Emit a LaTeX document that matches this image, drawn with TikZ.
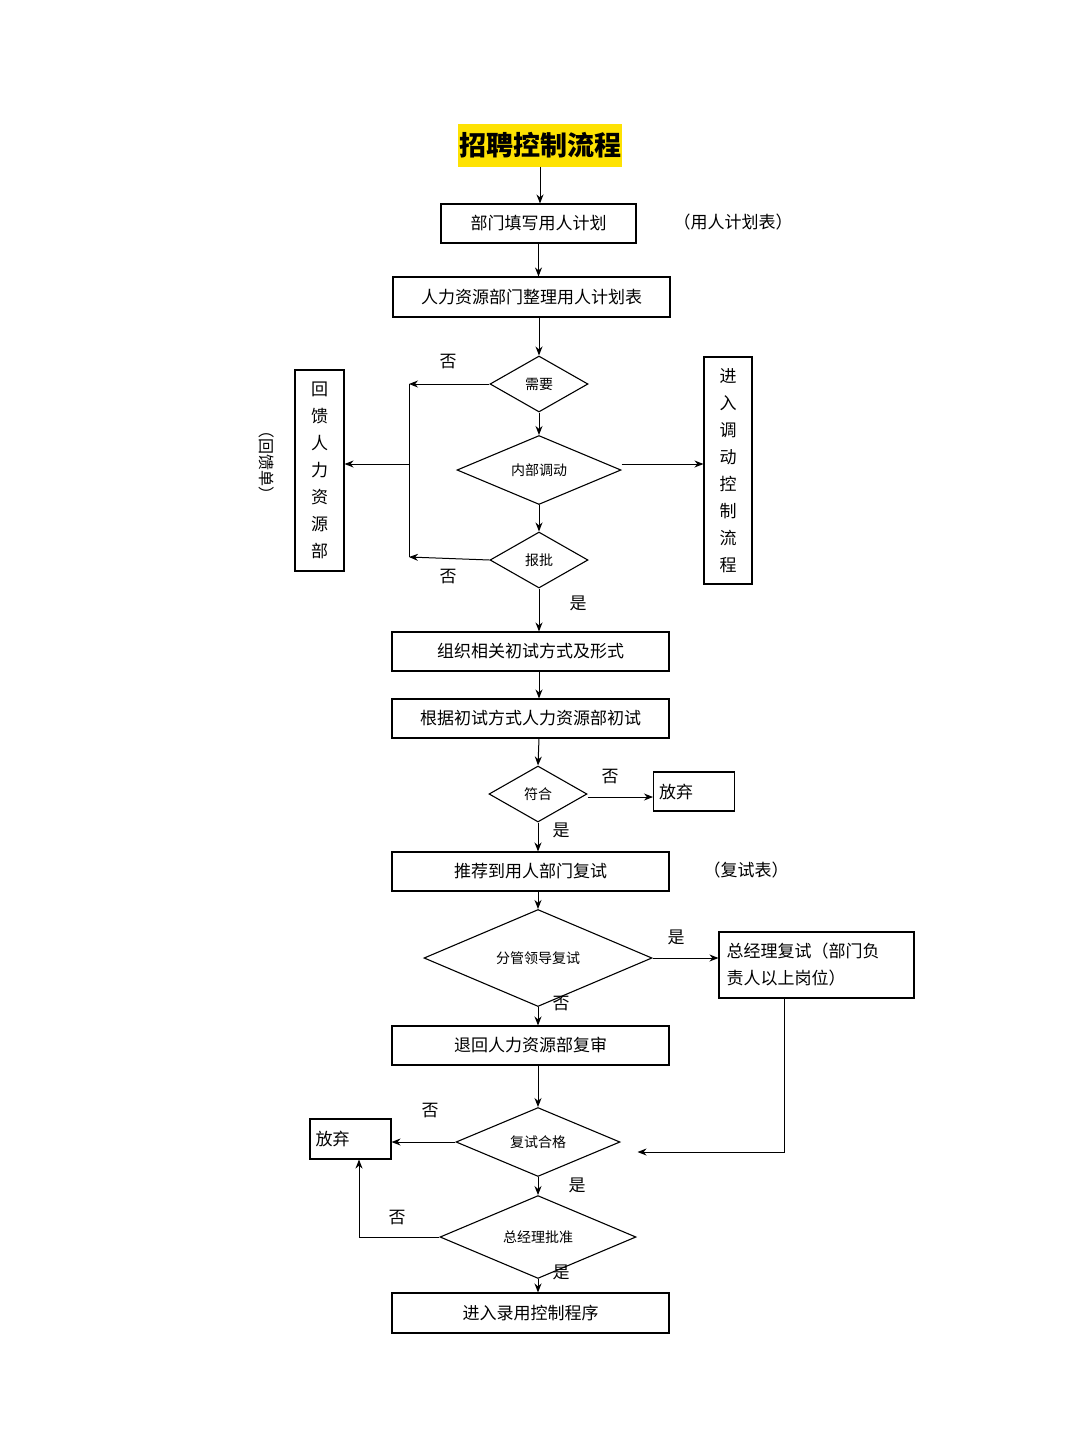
\documentclass[tikz,border=0pt]{standalone}
\usepackage{fontspec}
\setmainfont{Noto Sans CJK SC}
\usetikzlibrary{shapes.geometric,arrows.meta}
\begin{document}
\begin{tikzpicture}[x=1pt,y=-1pt,
  box/.style={draw,line width=1.1pt,inner sep=0pt,font=\fontsize{17}{20}\selectfont},
  dia/.style={draw,diamond,line width=1.1pt,inner sep=0pt,font=\fontsize{14}{16}\selectfont},
  vbox/.style={draw,line width=1.1pt,inner sep=0pt,align=center,font=\fontsize{17}{27}\selectfont},
  lab/.style={font=\fontsize{17}{20}\selectfont},
  arr/.style={-{Stealth[length=9pt,width=7pt]},line width=1pt},
  ln/.style={line width=1pt}]
\useasboundingbox (0,0) rectangle (1080,1443);
\node[fill=yellow!85!orange,minimum width=164pt,minimum height=43pt,inner sep=0pt,font=\fontsize{27}{30}\selectfont\bfseries] (t) at (540,145) {招聘控制流程};
\node[box,minimum width=195pt,minimum height=39pt] (b1) at (538.5,223.5) {部门填写用人计划};
\node[lab] (l1) at (733,222) {（用人计划表）};
\node[box,minimum width=277pt,minimum height=40pt] (b2) at (531.5,297) {人力资源部门整理用人计划表};
\node[dia,minimum width=98pt,minimum height=56pt] (d1) at (539,384) {需要};
\node[dia,minimum width=164pt,minimum height=66pt] (d2) at (539,470) {内部调动};
\node[dia,minimum width=98pt,minimum height=56pt] (d3) at (539,560) {报批};
\node[vbox,minimum width=49pt,minimum height=201pt] (fb) at (319.5,470.5) {回\\馈\\人\\力\\资\\源\\部};
\node[vbox,minimum width=48pt,minimum height=227pt] (tr) at (728,470.5) {进\\入\\调\\动\\控\\制\\流\\程};
\node[align=center,font=\fontsize{16}{17}\selectfont,rotate=-90] (l2) at (267,462) {（回馈单）};
\coordinate (L1) at (409,384);
\coordinate (L3) at (409,557);
\coordinate (Lm) at (409,464);
\node[lab] at (448,362) {否};
\node[lab] at (448,577) {否};
\node[lab] at (578,603) {是};
\node[box,minimum width=277pt,minimum height=39pt] (b3) at (530.5,651.5) {组织相关初试方式及形式};
\node[box,minimum width=277pt,minimum height=39pt] (b4) at (530.5,718.5) {根据初试方式人力资源部初试};
\node[dia,minimum width=98pt,minimum height=56pt] (d4) at (538,794) {符合};
\node[box,minimum width=81pt,minimum height=39pt,anchor=west,text width=70pt,align=left] (a1) at (653,791.5) {放弃};
\node[lab] at (610,777) {否};
\node[lab] at (561,830) {是};
\node[box,minimum width=277pt,minimum height=39pt] (b5) at (530.5,871.5) {推荐到用人部门复试};
\node[lab] at (746,870) {（复试表）};
\node[dia,minimum width=228pt,minimum height=54pt] (d5) at (538,958) {分管领导复试};
\node[lab] at (676,937) {是};
\node[box,minimum width=195pt,minimum height=66pt,text width=180pt,align=left,font=\fontsize{17}{27}\selectfont] (gm) at (816.5,965) {总经理复试（部门负\\责人以上岗位）};
\node[lab] at (561,1004) {否};
\node[box,minimum width=277pt,minimum height=39pt] (b6) at (530.5,1045.5) {退回人力资源部复审};
\node[dia,minimum width=164pt,minimum height=62pt] (d6) at (538,1142) {复试合格};
\node[box,minimum width=81pt,minimum height=40pt,text width=70pt,align=left] (a2) at (350.5,1139) {放弃};
\node[lab] at (430,1111) {否};
\node[lab] at (577,1185) {是};
\node[dia,minimum width=196pt,minimum height=60pt] (d7) at (538,1237) {总经理批准};
\node[lab] at (397,1218) {否};
\node[lab] at (561,1272) {是};
\node[box,minimum width=277pt,minimum height=40pt] (b7) at (530.5,1313) {进入录用控制程序};
\draw[arr] (t.south) -- (t.south|-b1.north);
\draw[arr] (b1) -- (b1|-b2.north);
\draw[arr] (b2.south-|d1) -- (d1.north);
\draw[arr] (d1) -- (d2);
\draw[arr] (d2) -- (d3);
\draw[arr] (d1.west) -- (L1);
\draw[arr] (d3.west) -- (L3);
\draw[ln] (L1) -- (L3);
\draw[arr] (Lm) -- (fb.east|-Lm);
\draw[arr] (d2.east) ++(0,-6) -- (tr.west|-Lm);
\draw[arr] (d3.south) -- (d3|-b3.north);
\draw[arr] (b3.south-|d3) -- (d3|-b4.north);
\draw[arr] (b4.south-|d3) -- (d4.north);
\draw[arr] (d4.east) ++(0,3) -- (a1.west|-0,797);
\draw[arr] (d4.south) -- (d4|-b5.north);
\draw[arr] (b5.south-|d4) -- (d5.north);
\draw[arr] (d5.east) -- (gm.west|-d5.east);
\draw[arr] (d5.south) -- (d5|-b6.north);
\draw[arr] (b6.south-|d6) -- (d6.north);
\draw[arr] (gm.south-|784,0) |- ([xshift=17pt,yshift=-10pt]d6.east);
\draw[arr] (d6.west) -- (a2.east|-d6.west);
\draw[arr] (d6.south) -- (d7.north);
\draw[arr] (d7.west) -| (a2.south-|359,0);
\draw[arr] (d7.south) -- (d7|-b7.north);
\end{tikzpicture}
\end{document}
